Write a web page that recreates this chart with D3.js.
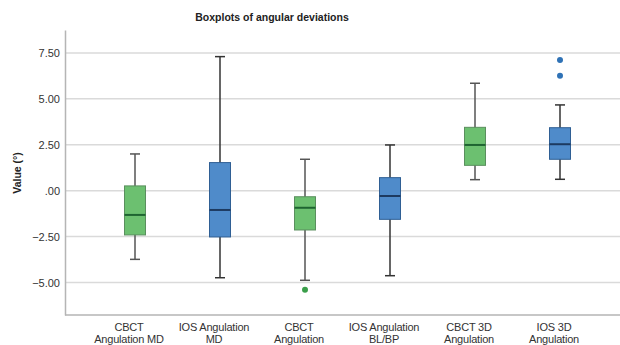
<!DOCTYPE html>
<html>
<head>
<meta charset="utf-8">
<script src="https://cdn.jsdelivr.net/npm/d3@7"></script>
<style>
  body { margin: 0; background: #fff; }
  text { font-family: "Liberation Sans", Arial, sans-serif; }
</style>
</head>
<body>
<svg id="chart" width="620" height="345"></svg>
<script>
// categories (two-line labels)
var categories = ["CBCT|Angulation MD", "IOS Angulation|MD", "CBCT|Angulation", "IOS Angulation|BL/BP", "CBCT 3D|Angulation", "IOS 3D|Angulation"];
var groups = ["CBCT", "IOS", "CBCT", "IOS", "CBCT", "IOS"];

// box statistics
var whiskerLow  = [-3.74, -4.74, -4.88, -4.63, 0.60, 0.62];
var q1          = [-2.41, -2.52, -2.14, -1.56, 1.38, 1.71];
var medians     = [-1.32, -1.05, -0.93, -0.29, 2.49, 2.53];
var q3          = [ 0.26,  1.53, -0.33,  0.71, 3.45, 3.43];
var whiskerHigh = [ 2.00,  7.30,  1.71,  2.49, 5.85, 4.67];
var outliers    = [[], [], [-5.39], [], [], [6.26, 7.12]];

var yTicks = [-5, -2.5, 0, 2.5, 5, 7.5];

var svg = d3.select("#chart"),
    width = +svg.attr("width"),
    height = +svg.attr("height");

var margin = {top: 30, right: 0, bottom: 30, left: 65};

var fill = {CBCT: "#6cc070", IOS: "#4f8bca"};
var edge = {CBCT: "#5a8f5e", IOS: "#2f5f94"};
var med  = {CBCT: "#1e6431", IOS: "#1d3a60"};
var dot  = {CBCT: "#3a9e4a", IOS: "#2f72b6"};
var whisk = {CBCT: "#555", IOS: "#333"};

var x = d3.scaleBand()
    .domain(d3.range(categories.length))
    .range([92.5, 602.5]);

var y = d3.scaleLinear()
    .domain([-6.77, 8.75])
    .range([height - margin.bottom, margin.top]);

// gridlines
svg.append("g")
    .selectAll("line")
    .data(yTicks)
    .enter().append("line")
    .attr("x1", margin.left)
    .attr("x2", width)
    .attr("y1", function(d) { return y(d); })
    .attr("y2", function(d) { return y(d); })
    .attr("stroke", "#dadada")
    .attr("stroke-width", 1.5);

// y axis
var yAxis = svg.append("g")
    .attr("transform", "translate(" + margin.left + ",0)")
    .call(d3.axisLeft(y).tickValues(yTicks).tickSize(0).tickPadding(5)
        .tickFormat(function(d) { return d === 0 ? ".00" : d3.format(".2f")(d).replace("-", "\u2212"); }));
yAxis.select(".domain").attr("stroke", "#b5b5b5").attr("stroke-width", 1.5);
yAxis.selectAll("text").attr("font-size", 11).attr("fill", "#333");

// x axis line
svg.append("line")
    .attr("x1", margin.left)
    .attr("x2", width)
    .attr("y1", y.range()[0])
    .attr("y2", y.range()[0])
    .attr("stroke", "#b5b5b5")
    .attr("stroke-width", 1.5);

// category labels
var lab = svg.append("g")
    .selectAll("text")
    .data(categories)
    .enter().append("text")
    .attr("text-anchor", "middle")
    .attr("font-size", 11)
    .attr("letter-spacing", -0.2)
    .attr("fill", "#333")
    .attr("y", 331);
lab.each(function(d, i) {
    var parts = d.split("|");
    var t = d3.select(this);
    parts.forEach(function(p, k) {
        t.append("tspan")
            .attr("x", x(i) + x.bandwidth() / 2 - 6)
            .attr("dy", k === 0 ? 0 : 12)
            .text(p);
    });
});

var bw = 21;
var box = svg.append("g")
    .selectAll("g")
    .data(categories)
    .enter().append("g")
    .attr("transform", function(d, i) { return "translate(" + (x(i) + x.bandwidth() / 2) + ",0)"; });

// whiskers
box.append("line")
    .attr("y1", function(d, i) { return y(whiskerLow[i]); })
    .attr("y2", function(d, i) { return y(whiskerHigh[i]); })
    .attr("stroke", function(d, i) { return whisk[groups[i]]; })
    .attr("stroke-width", 1.5);
box.append("line")
    .attr("x1", -5).attr("x2", 5)
    .attr("y1", function(d, i) { return y(whiskerLow[i]); })
    .attr("y2", function(d, i) { return y(whiskerLow[i]); })
    .attr("stroke", function(d, i) { return whisk[groups[i]]; })
    .attr("stroke-width", 1.5);
box.append("line")
    .attr("x1", -5).attr("x2", 5)
    .attr("y1", function(d, i) { return y(whiskerHigh[i]); })
    .attr("y2", function(d, i) { return y(whiskerHigh[i]); })
    .attr("stroke", function(d, i) { return whisk[groups[i]]; })
    .attr("stroke-width", 1.5);

// boxes
box.append("rect")
    .attr("x", -bw / 2)
    .attr("width", bw)
    .attr("y", function(d, i) { return y(q3[i]); })
    .attr("height", function(d, i) { return y(q1[i]) - y(q3[i]); })
    .attr("fill", function(d, i) { return fill[groups[i]]; })
    .attr("stroke", function(d, i) { return edge[groups[i]]; })
    .attr("stroke-width", 1);

// medians
box.append("line")
    .attr("x1", -bw / 2).attr("x2", bw / 2)
    .attr("y1", function(d, i) { return y(medians[i]); })
    .attr("y2", function(d, i) { return y(medians[i]); })
    .attr("stroke", function(d, i) { return med[groups[i]]; })
    .attr("stroke-width", 2);

// outliers
box.each(function(d, i) {
    d3.select(this).selectAll("circle")
        .data(outliers[i])
        .enter().append("circle")
        .attr("r", 3)
        .attr("cy", function(v) { return y(v); })
        .attr("fill", dot[groups[i]]);
});

// title
svg.append("text")
    .attr("x", 272)
    .attr("y", 21)
    .attr("text-anchor", "middle")
    .attr("font-size", 10.5)
    .attr("font-weight", "bold")
    .attr("fill", "#222")
    .text("Boxplots of angular deviations");

// y label
svg.append("text")
    .attr("transform", "translate(21,173) rotate(-90)")
    .attr("text-anchor", "middle")
    .attr("font-size", 10.5)
    .attr("font-weight", "bold")
    .attr("fill", "#222")
    .text("Value (°)");
</script>
</body>
</html>
